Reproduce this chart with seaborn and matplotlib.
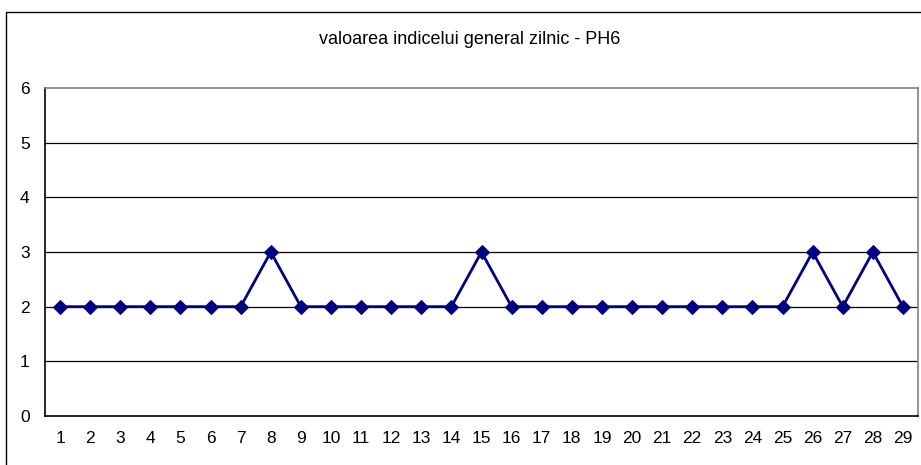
import numpy as np
import pandas as pd
import matplotlib
matplotlib.use('Agg')
import matplotlib.pyplot as plt
import seaborn as sns
from matplotlib.patches import Rectangle

# data
days = list(range(1, 30))
values = [2, 2, 2, 2, 2, 2, 2, 3, 2, 2, 2, 2, 2, 2, 3, 2, 2, 2, 2, 2, 2, 2, 2, 2, 2, 3, 2, 3, 2]
y_ticks = [0, 1, 2, 3, 4, 5, 6]
title = 'valoarea indicelui general zilnic - PH6'

df = pd.DataFrame({'zi': days, 'valoare': values})

sns.set_style('white')
plt.rcParams['font.family'] = ['Liberation Sans', 'DejaVu Sans']
plt.rcParams['text.color'] = 'black'
plt.rcParams['xtick.color'] = 'black'
plt.rcParams['ytick.color'] = 'black'

W, H = 921, 465
fig = plt.figure(figsize=(W / 100, H / 100), dpi=100)
fig.patch.set_facecolor('white')

# outer chart frame
fig.add_artist(Rectangle((6 / W, -0.1), 2.0, (H - 12) / H + 0.1, transform=fig.transFigure,
                         fill=False, edgecolor='black', linewidth=1.0))

ax = fig.add_axes([45 / W, (H - 416) / H, (918 - 45) / W, (416 - 88) / H])
sns.lineplot(data=df, x='zi', y='valoare', ax=ax, color='#000080', linewidth=2.0,
             marker='D', markersize=7, markeredgecolor='#000080', markerfacecolor='#000080')

ax.set_xlim(0.5, 29.5)
ax.set_ylim(0, 6)
ax.set_yticks(y_ticks)
ax.set_yticklabels([str(v) for v in y_ticks], fontsize=12.5)
ax.set_xticks(days)
ax.set_xticklabels([str(d) for d in days], fontsize=12.5)
ax.set_xticks(np.arange(0.5, 30, 1), minor=True)
ax.tick_params(axis='x', which='major', length=0, pad=11, labelcolor='black')
ax.tick_params(axis='x', which='minor', length=5, width=1, color='black', direction='out')
ax.tick_params(axis='y', which='major', length=5, width=1, color='black', direction='out', pad=6,
               labelcolor='black')
ax.set_xlabel('')
ax.set_ylabel('')

for v in y_ticks[1:-1]:
    ax.axhline(v, color='black', linewidth=0.9, zorder=0)

for side in ['left', 'bottom']:
    ax.spines[side].set_color('black')
    ax.spines[side].set_linewidth(1.2)
for side in ['top', 'right']:
    ax.spines[side].set_color('#808080')
    ax.spines[side].set_linewidth(1.2)

fig.text(470 / W, 1 - 40 / H, title, ha='center', va='center', fontsize=13, color='black')

fig.savefig('out.png', dpi=100)
